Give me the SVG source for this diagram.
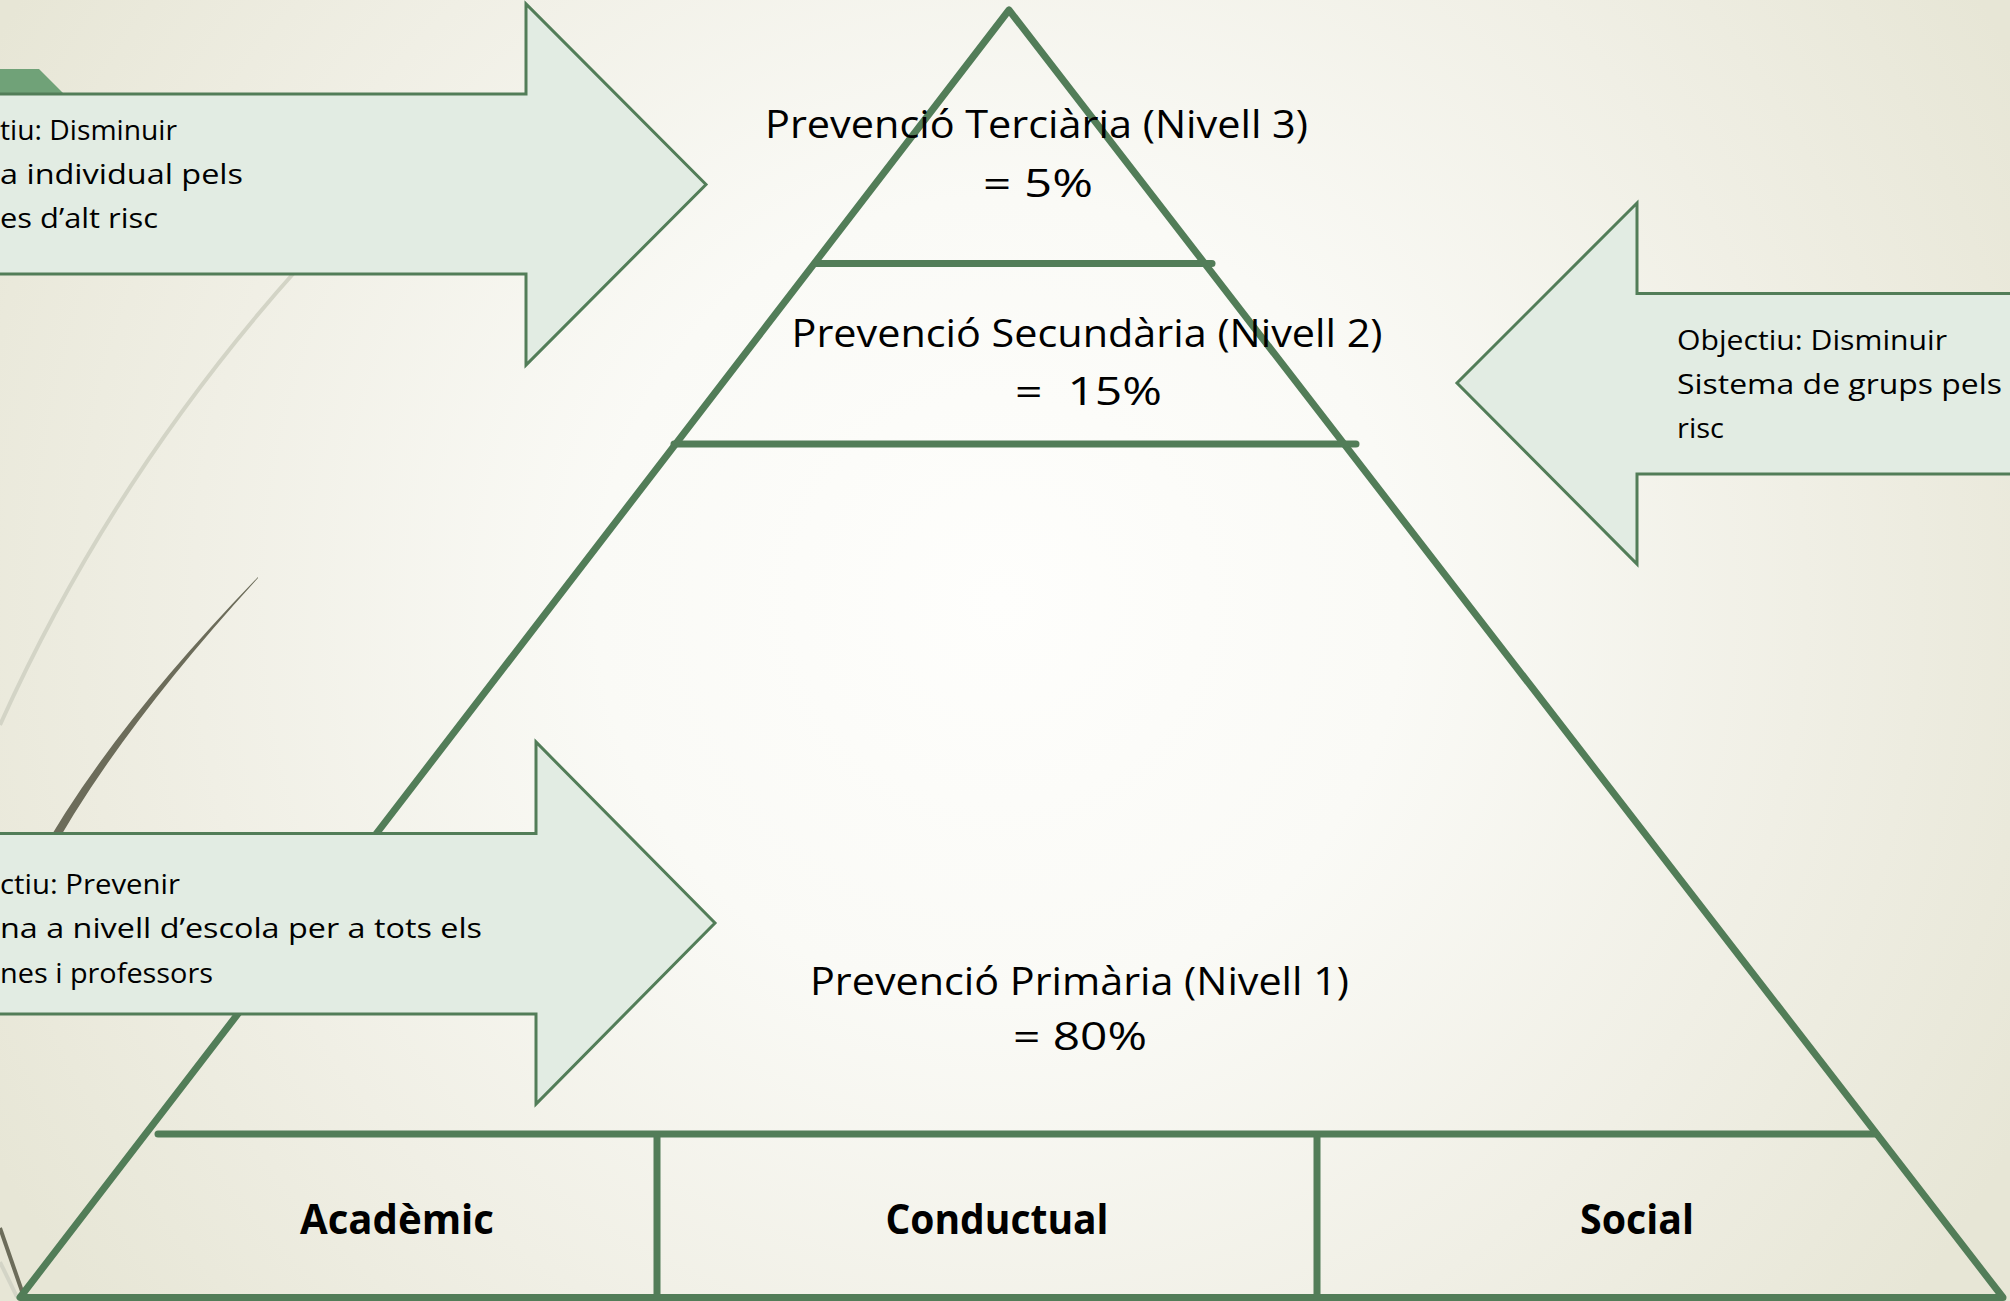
<svg xmlns="http://www.w3.org/2000/svg" width="2010" height="1301" viewBox="0 0 2010 1301">
  <defs>
    <radialGradient id="bg" gradientUnits="userSpaceOnUse" cx="1000" cy="600" r="1150">
      <stop offset="0" stop-color="#fefefc"/>
      <stop offset="0.35" stop-color="#fafaf6"/>
      <stop offset="0.7" stop-color="#f0efe5"/>
      <stop offset="1" stop-color="#e7e6d6"/>
    </radialGradient>
    <style>
      .arrow { fill: #e2ece3; stroke: #527d58; stroke-width: 3; stroke-linejoin: miter; }
      .pyr { fill: none; stroke: #527d58; stroke-width: 7; stroke-linejoin: round; }
      .tier { stroke: #527d58; stroke-width: 7; stroke-linecap: round; }
      .div { stroke: #527d58; stroke-width: 7; }
      .lbl { font-family: "Open Sans", "Liberation Sans", sans-serif; font-size: 38px; fill: #000; text-anchor: middle; }
      .small { font-family: "Open Sans", "Liberation Sans", sans-serif; font-size: 27px; fill: #000; }
      .bold { font-family: "Open Sans", "Liberation Sans", sans-serif; font-size: 42px; font-weight: bold; fill: #000; text-anchor: middle; }
      .wisp-l { fill: none; stroke: #d3d4c6; stroke-width: 4; }
      .wisp-d { fill: none; stroke: #6c6c5a; }
    </style>
  </defs>

  <rect x="0" y="0" width="2010" height="1301" fill="url(#bg)"/>

  <g id="background-wisps">
    <path class="wisp-l" d="M300,266 Q113,474 0,725"/>
    <path d="M258,577 Q107,733 36,862 L45,864 Q113,737 258,578 Z" fill="#6c6c5a"/>
    <path class="wisp-l" d="M0,1262 L17,1297"/>
    <path class="wisp-d" stroke-width="4" d="M0,1228 L24,1297"/>
    <polygon points="0,69 39,69 63,93 0,93" fill="#70a278"/>
  </g>

  <g id="connectors">
    <polygon id="pyramid" class="pyr" points="1009,10 20,1297.5 2003,1297.5"/>
    <line class="tier" x1="815" y1="263.5" x2="1212" y2="263.5"/>
    <line class="tier" x1="674" y1="444" x2="1356" y2="444"/>
    <line class="tier" x1="158" y1="1134" x2="1876" y2="1134"/>
    <line class="div" x1="657" y1="1134" x2="657" y2="1297"/>
    <line class="div" x1="1317" y1="1134" x2="1317" y2="1297"/>
  </g>

  <g id="level3">
    <text class="lbl" x="1036.5" y="138" textLength="543" lengthAdjust="spacingAndGlyphs">Prevenció Terciària (Nivell 3)</text>
    <text class="lbl" x="1038" y="197" textLength="110" lengthAdjust="spacingAndGlyphs">= 5%</text>
  </g>
  <g id="level2">
    <text class="lbl" x="1087" y="347" textLength="591" lengthAdjust="spacingAndGlyphs">Prevenció Secundària (Nivell 2)</text>
    <text class="lbl" x="1088.5" y="405" textLength="147" lengthAdjust="spacingAndGlyphs" xml:space="preserve">=  15%</text>
  </g>
  <g id="level1">
    <text class="lbl" x="1079.5" y="995" textLength="539" lengthAdjust="spacingAndGlyphs">Prevenció Primària (Nivell 1)</text>
    <text class="lbl" x="1080" y="1050" textLength="134" lengthAdjust="spacingAndGlyphs">= 80%</text>
  </g>

  <g id="cell-academic">
    <text class="bold" x="397" y="1234" textLength="194" lengthAdjust="spacingAndGlyphs">Acadèmic</text>
  </g>
  <g id="cell-conductual">
    <text class="bold" x="997" y="1234" textLength="223" lengthAdjust="spacingAndGlyphs">Conductual</text>
  </g>
  <g id="cell-social">
    <text class="bold" x="1637" y="1234" textLength="114" lengthAdjust="spacingAndGlyphs">Social</text>
  </g>

  <g id="arrow-tertiary">
    <polygon class="arrow" points="-10,94 526,94 526,4 706,184.5 526,365 526,274 -10,274"/>
    <text class="small" text-anchor="end" x="177" y="140" textLength="177" lengthAdjust="spacingAndGlyphs">tiu: Disminuir</text>
    <text class="small" text-anchor="end" x="243" y="184" textLength="243" lengthAdjust="spacingAndGlyphs">a individual pels</text>
    <text class="small" text-anchor="end" x="158" y="228" textLength="158" lengthAdjust="spacingAndGlyphs">es d’alt risc</text>
  </g>

  <g id="arrow-primary">
    <polygon class="arrow" points="-10,833.5 536,833.5 536,742 715,923 536,1104 536,1014 -10,1014"/>
    <text class="small" text-anchor="end" x="180" y="894" textLength="180" lengthAdjust="spacingAndGlyphs">ctiu: Prevenir</text>
    <text class="small" text-anchor="end" x="482" y="938" textLength="482" lengthAdjust="spacingAndGlyphs">na a nivell d’escola per a tots els</text>
    <text class="small" text-anchor="end" x="213" y="983" textLength="213" lengthAdjust="spacingAndGlyphs">nes i professors</text>
  </g>

  <g id="arrow-secondary">
    <polygon class="arrow" points="2020,293.5 1637,293.5 1637,203 1457,383 1637,564 1637,474 2020,474"/>
    <text class="small" x="1677" y="350" textLength="270" lengthAdjust="spacingAndGlyphs">Objectiu: Disminuir</text>
    <text class="small" x="1677" y="394" textLength="325" lengthAdjust="spacingAndGlyphs">Sistema de grups pels</text>
    <text class="small" x="1677" y="438" textLength="47" lengthAdjust="spacingAndGlyphs">risc</text>
  </g>
</svg>
